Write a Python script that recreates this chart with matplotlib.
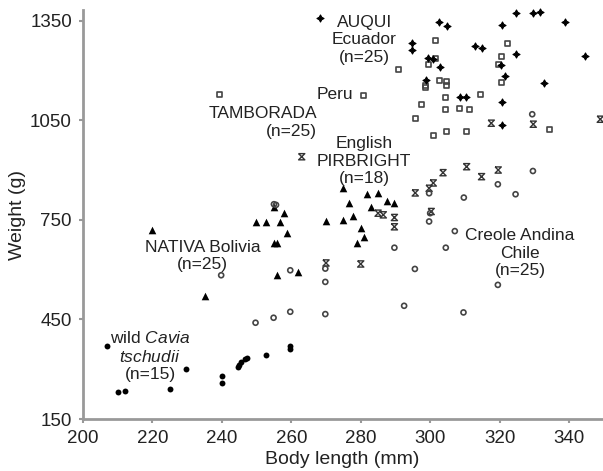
from matplotlib import pyplot as plt
from matplotlib.path import Path

plt.rcParams['font.family'] = ['Liberation Sans', 'DejaVu Sans']
plt.rcParams['mathtext.fontset'] = 'custom'
plt.rcParams['mathtext.it'] = 'Liberation Sans:italic'
plt.rcParams['mathtext.rm'] = 'Liberation Sans'

# wild Cavia tschudii (filled circles)
wild_x = [206.8, 210, 212, 225, 229.8, 240, 240, 244.6, 245.6, 246.6, 252.6, 259.7, 259.7, 245.0, 247.2]
wild_y = [371, 232, 234, 240, 301, 279, 257, 308, 323, 330, 344, 370, 362, 312, 333]

# NATIVA Bolivia (triangles)
nativa_x = [220, 235, 249.7, 252.8, 256.8, 254.9, 258, 258.8, 255, 256, 256, 262, 270, 274.8, 277.9,
            276.7, 274.8, 281.7, 284.9, 283, 287.7, 289.7, 280.1, 280.8, 278.8]
nativa_y = [719, 521, 742, 744, 744, 788, 772, 711, 680, 680, 583, 593, 745, 750, 760,
            802, 845, 827, 830, 788, 808, 800, 726, 699, 681]

# English PIRBRIGHT (hourglass)
english_x = [263, 270, 280, 285, 289.7, 289.7, 295.7, 300.9, 303.7, 300.3, 310.5, 314.8, 319.6,
             317.6, 329.7, 349, 299.7, 286.5]
english_y = [940, 620, 617, 770, 757, 729, 831, 861, 892, 775, 910, 880, 900,
             1041, 1038, 1053, 845, 765]

# Creole Andina Chile (open circles)
creole_x = [239.8, 249.7, 254.9, 255.6, 259.7, 259.7, 269.8, 269.8, 269.8, 289.7, 292.5, 295.6,
            299.7, 299.7, 304.5, 307.1, 309.7, 309.6, 319.5, 319.5, 324.6, 329.6, 329.4, 300, 255]
creole_y = [583, 440, 455, 795, 473, 598, 603, 563, 466, 666, 491, 602,
            745, 830, 666, 716, 817, 471, 857, 554, 827, 897, 1068, 770, 797]

# TAMBORADA / Peru (open squares)
tambo_x = [239.4, 280.7, 290.8, 301.6, 299.5, 301.4, 298.6, 298.6, 302.6, 304.7, 304.7, 304.5, 304.5,
           297.6, 295.7, 308.5, 311.4, 314.5, 301, 304.7, 310.4, 322.4, 320.5, 319.6, 320.5, 334.4]
tambo_y = [1126, 1124, 1204, 1289, 1217, 1237, 1156, 1149, 1171, 1168, 1156, 1119, 1083,
           1096, 1056, 1085, 1083, 1128, 1003, 1016, 1016, 1282, 1242, 1217, 1163, 1022]

# AUQUI Ecuador (filled stars)
auqui_x = [268.4, 302.6, 304.8, 294.7, 294.7, 300.7, 302.8, 298.7, 312.9, 314.8, 310.2, 308.5,
           324.8, 329.6, 331.5, 338.7, 320.8, 324.8, 344.5, 320.3, 321.7, 332.8, 320.8, 320.8, 299.5]
auqui_y = [1358, 1345, 1335, 1284, 1262, 1234, 1209, 1171, 1275, 1269, 1119, 1119,
           1372, 1372, 1375, 1345, 1337, 1248, 1244, 1215, 1182, 1163, 1106, 1037, 1238]

hourglass = Path([(-1, 1), (1, 1), (-1, -1), (1, -1), (-1, 1)])

fig = plt.figure(figsize=(6.03, 4.71), dpi=100)
ax = fig.add_axes([83/603, 52/471, 519/603, 409/471])

ax.scatter(wild_x, wild_y, s=18, marker='o', color='black', lw=0, clip_on=False)
ax.scatter(nativa_x, nativa_y, s=30, marker='^', color='black', lw=0, clip_on=False)
ax.scatter(english_x, english_y, s=20, marker=hourglass, facecolor='none', edgecolor='#333333', lw=1, clip_on=False)
ax.scatter(creole_x, creole_y, s=13, marker='o', facecolor='none', edgecolor='#444444', lw=1.2, clip_on=False)
ax.scatter(tambo_x, tambo_y, s=13, marker='s', facecolor='none', edgecolor='#444444', lw=1.2, clip_on=False)
ax.scatter(auqui_x, auqui_y, s=26, marker=(4, 1, 0), color='black', edgecolor='black', lw=0.8, clip_on=False)

txt = dict(fontsize=12.5, color='#222222', va='center', linespacing=1.2)
ax.text(281, 1292, "AUQUI\nEcuador\n(n=25)", ha='center', **txt)
ax.text(272.7, 1126, "Peru", ha='center', **txt)
ax.text(267.5, 1043, "TAMBORADA\n(n=25)", ha='right', multialignment='right', **txt)
ax.text(281, 927, "English\nPIRBRIGHT\n(n=18)", ha='center', **txt)
ax.text(234.5, 641, "NATIVA Bolivia\n(n=25)", ha='center', **txt)
ax.text(325.9, 650, "Creole Andina\nChile\n(n=25)", ha='center', **txt)
ax.text(219.3, 340, "wild $\\it{Cavia}$\n$\\it{tschudii}$\n(n=15)", ha='center', **txt)

ax.set_xlim(200, 349.5)
ax.set_ylim(150, 1382)
ax.set_xticks(range(200, 341, 20))
ax.set_yticks([150, 450, 750, 1050, 1350])

for s in ['top', 'right']:
    ax.spines[s].set_visible(False)
for s in ['left', 'bottom']:
    ax.spines[s].set_color('#999999')
    ax.spines[s].set_linewidth(2)
ax.tick_params(direction='out', length=3, width=1.5, color='#999999', labelsize=13.5, labelcolor='#222222')
ax.tick_params(axis='x', pad=5)
ax.tick_params(axis='y', pad=5)

ax.set_xlabel("Body length (mm)", fontsize=14, color='#222222', labelpad=3)
ax.set_ylabel("Weight (g)", fontsize=14, color='#222222', labelpad=3)

plt.savefig("out.png", dpi=100)
